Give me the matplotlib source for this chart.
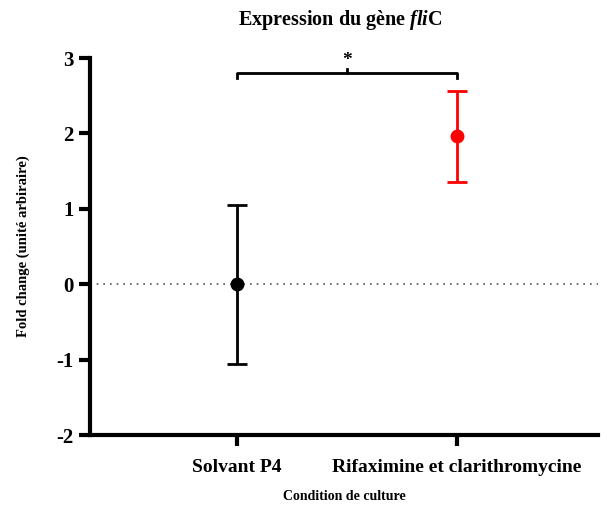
import matplotlib
matplotlib.use("Agg")
import matplotlib.pyplot as plt

categories = ["Solvant P4", "Rifaximine et clarithromycine"]
means = [0.0, 1.96]
errors = [1.05, 0.60]
colors = ["black", "red"]
yticks = [-2, -1, 0, 1, 2, 3]

plt.rcParams['font.family'] = ['Liberation Serif', 'DejaVu Serif']
plt.rcParams['font.weight'] = 'bold'
plt.rcParams['mathtext.fontset'] = 'custom'
plt.rcParams['mathtext.it'] = 'Liberation Serif:italic:bold'
plt.rcParams['mathtext.rm'] = 'Liberation Serif:bold'
plt.rcParams['mathtext.bf'] = 'Liberation Serif:bold'

fig = plt.figure(figsize=(6.01, 5.09), dpi=100)
ax = fig.add_axes([0.150, 0.145, 0.845, 0.741])

x = list(range(len(categories)))
ax.axhline(0, color="#555555", linestyle=(0, (1, 3)), linewidth=1.2, zorder=0)
for xi, m, e, c in zip(x, means, errors, colors):
    ax.errorbar(xi, m, yerr=e, fmt='o', color=c, ecolor=c, markersize=9,
                elinewidth=2, capsize=7, capthick=2, zorder=3)

ax.set_xlim(-0.668, 1.64)
ax.set_ylim(-2, 3)
ax.set_yticks(yticks)
ax.set_yticklabels([str(v) for v in yticks], fontsize=15, fontweight='bold')
ax.set_xticks(x)
ax.set_xticklabels(categories, fontsize=14, fontweight='bold')

for s in ['top', 'right']:
    ax.spines[s].set_visible(False)
for s in ['left', 'bottom']:
    ax.spines[s].set_linewidth(3)
ax.tick_params(axis='both', width=3, length=8, direction='out')
ax.tick_params(axis='y', pad=4)
ax.tick_params(axis='x', pad=9)

# significance bracket
yb = 2.80
ax.plot([0, 0, 1, 1], [yb - 0.07, yb, yb, yb - 0.07], color='black', lw=2, clip_on=False)
ax.plot([0.5, 0.5], [yb, yb + 0.05], color='black', lw=2, clip_on=False)
ax.text(0.5, yb + 0.06, "*", ha='center', va='bottom', fontsize=14, fontweight='bold')

ax.set_ylabel("Fold change (unité arbiraire)", fontsize=10.5, fontweight='bold', labelpad=19)
ax.set_xlabel("Condition de culture", fontsize=10, fontweight='bold', labelpad=10)
fig.suptitle(r"Expression du gène $\mathit{fli}$C", x=0.567, y=0.985, fontsize=14.5, fontweight='bold')

fig.savefig("out.png", dpi=100)
